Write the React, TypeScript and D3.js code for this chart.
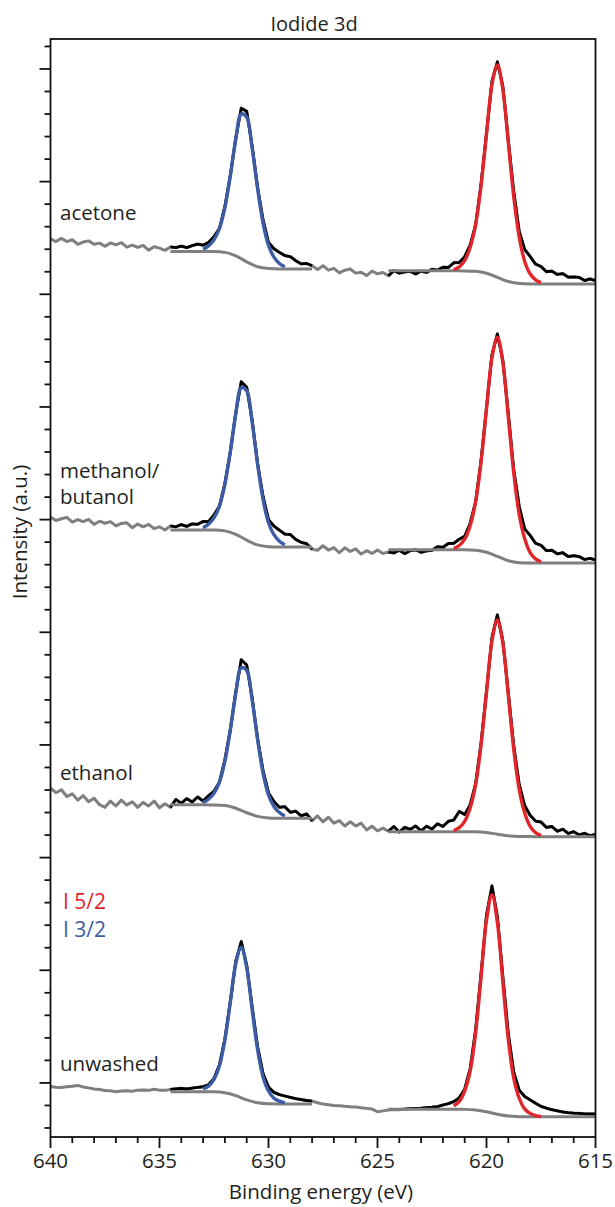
import React from 'react';
import * as d3 from 'd3';

// ---------- data ----------
const chartTitle = 'Iodide 3d';
const xAxisTitle = 'Binding energy (eV)';
const yAxisTitle = 'Intensity (a.u.)';
const xTickValues = [640, 635, 630, 625, 620, 615];

const sampleNames = ['acetone', 'methanol/butanol', 'ethanol', 'unwashed'];
const sampleLabelLines = [['acetone'], ['methanol/', 'butanol'], ['ethanol'], ['unwashed']];
// vertical stacking offset of each spectrum (a.u.)
const sampleOffsets = [35.46, 23.07, 10.93, -1.5];
// energy windows where the measured data are shown black (fit regions)
const fitWindows = [
  [[634.5, 628.0], [624.5, 615.0]],
  [[634.5, 628.0], [624.5, 615.0]],
  [[634.5, 628.0], [624.5, 615.0]],
  [[634.5, 628.0], [623.75, 615.0]],
];
const legendLabels = ['I 5/2', 'I 3/2'];

// measured spectra, 640 -> 615 eV, 0.25 eV steps
const rawEnergy = d3.range(101).map((i) => 640 - i * 0.25);
const acetoneRaw = [
  2.00, 1.88, 2.02, 1.88, 1.96, 1.76, 1.86, 1.91, 1.76, 1.81, 1.67, 1.82, 1.73, 1.83, 1.63, 1.72, 1.62, 1.71, 1.50, 1.65, 1.59, 1.49,
  1.64, 1.61, 1.68, 1.61, 1.70, 1.77, 1.72, 1.84, 2.10, 2.46, 3.44, 4.81, 6.48, 7.80, 7.66, 6.11, 4.28, 2.84, 1.84, 1.56, 1.40, 1.26, 1.21, 1.03, 0.89, 0.91, 0.81,
  0.64, 0.81, 0.61, 0.69, 0.49, 0.61, 0.66, 0.48, 0.52, 0.37, 0.57, 0.45, 0.51, 0.36,
  0.59, 0.48, 0.53, 0.56, 0.44, 0.57, 0.51, 0.65, 0.61, 0.74, 0.73, 0.94, 0.95, 1.21, 1.72, 2.61, 4.43, 6.68, 8.99, 9.86, 8.77, 6.36, 4.10, 2.34, 1.53, 1.22, 0.88, 0.77, 0.54, 0.57, 0.42, 0.46, 0.30, 0.31, 0.29, 0.15, 0.22, 0.15,
];
const methanolRaw = [
  2.04, 1.89, 1.97, 2.03, 1.82, 1.93, 1.84, 1.94, 1.72, 1.86, 1.77, 1.84, 1.65, 1.76, 1.79, 1.57, 1.73, 1.61, 1.72, 1.53, 1.61, 1.47, 1.65,
  1.61, 1.71, 1.63, 1.74, 1.72, 1.85, 1.84, 2.14, 2.53, 3.54, 4.94, 6.69, 8.05, 7.81, 6.34, 4.41, 2.96, 1.93, 1.64, 1.46, 1.29, 1.27, 1.05, 0.92, 0.86, 0.62,
  0.57, 0.77, 0.58, 0.69, 0.46, 0.68, 0.52, 0.63, 0.40, 0.55, 0.43, 0.58, 0.43, 0.49,
  0.45, 0.57, 0.42, 0.55, 0.59, 0.48, 0.54, 0.57, 0.73, 0.70, 0.87, 0.88, 1.06, 1.19, 1.76, 2.72, 4.55, 6.88, 9.25, 10.17, 9.00, 6.63, 4.14, 2.52, 1.52, 1.23, 0.88, 0.79, 0.55, 0.57, 0.41, 0.46, 0.29, 0.33, 0.29, 0.16, 0.21, 0.14,
];
const ethanolRaw = [
  2.15, 1.95, 2.08, 1.78, 1.90, 1.62, 1.82, 1.55, 1.70, 1.42, 1.30, 1.58, 1.36, 1.62, 1.40, 1.55, 1.30, 1.52, 1.36, 1.58, 1.28, 1.46, 1.30,
  1.65, 1.48, 1.69, 1.54, 1.76, 1.58, 1.82, 2.01, 2.42, 3.41, 4.74, 6.44, 7.85, 7.62, 6.15, 4.34, 2.93, 1.94, 1.56, 1.30, 1.33, 1.08, 1.13, 0.92, 1.01, 0.70,
  0.92, 0.66, 0.86, 0.60, 0.71, 0.47, 0.66, 0.47, 0.60, 0.30, 0.46, 0.26, 0.38, 0.24,
  0.45, 0.20, 0.41, 0.32, 0.47, 0.26, 0.46, 0.34, 0.57, 0.45, 0.68, 0.74, 1.12, 0.98, 1.41, 2.34, 4.15, 6.46, 8.83, 9.84, 8.70, 6.38, 4.02, 2.32, 1.38, 0.95, 0.69, 0.65, 0.41, 0.45, 0.24, 0.33, 0.14, 0.22, 0.08, 0.15, 0.04, 0.10,
];
const unwashedRaw = [
  1.34, 1.31, 1.30, 1.33, 1.35, 1.39, 1.32, 1.28, 1.23, 1.21, 1.16, 1.15, 1.11, 1.14, 1.15, 1.13, 1.18, 1.19, 1.17, 1.22, 1.18, 1.17, 1.21,
  1.24, 1.26, 1.23, 1.27, 1.30, 1.33, 1.42, 1.70, 2.30, 3.45, 5.12, 6.90, 7.77, 6.72, 4.88, 3.10, 1.92, 1.32, 1.08, 0.98, 0.92, 0.86, 0.80, 0.76, 0.72, 0.69,
  0.62, 0.56, 0.53, 0.50, 0.49, 0.46, 0.44, 0.43, 0.40, 0.37, 0.34, 0.22, 0.26, 0.30, 0.32, 0.31,
  0.34, 0.36, 0.37, 0.38, 0.40, 0.42, 0.45, 0.52, 0.58, 0.67, 0.84, 1.22, 2.12, 3.85, 6.35, 8.95, 10.24, 8.88, 6.22, 3.68, 1.98, 1.18, 0.90, 0.75, 0.60, 0.46, 0.38, 0.31, 0.26, 0.21, 0.18, 0.16, 0.15, 0.13, 0.12, 0.12,
];

// fitted envelopes: I 3d3/2 (633.0 -> 629.25 eV) and I 3d5/2 (621.5 -> 617.5 eV), 0.25 eV steps
const fit32Energy = d3.range(16).map((i) => 633.0 - i * 0.25);
const fit52Energy = d3.range(17).map((i) => 621.5 - i * 0.25);
const acetoneFit32 = [1.54, 1.69, 1.96, 2.46, 3.39, 4.81, 6.42, 7.54, 7.40, 6.02, 4.23, 2.70, 1.71, 1.19, 0.91, 0.76];
const acetoneFit52 = [0.64, 0.76, 1.03, 1.62, 2.63, 4.35, 6.65, 8.83, 9.72, 8.63, 6.28, 3.87, 2.09, 1.01, 0.45, 0.18, 0.06];
const methanolFit32 = [1.57, 1.73, 2.01, 2.52, 3.49, 4.95, 6.62, 7.79, 7.65, 6.24, 4.39, 2.82, 1.79, 1.26, 0.97, 0.81];
const methanolFit52 = [0.65, 0.78, 1.06, 1.66, 2.71, 4.48, 6.85, 9.10, 10.03, 8.90, 6.48, 4.00, 2.16, 1.09, 0.47, 0.19, 0.06];
const ethanolFit32 = [1.51, 1.66, 1.92, 2.42, 3.34, 4.75, 6.35, 7.49, 7.38, 6.06, 4.31, 2.82, 1.85, 1.34, 1.07, 0.92];
const ethanolFit52 = [0.28, 0.40, 0.68, 1.27, 2.30, 4.06, 6.41, 8.66, 9.62, 8.58, 6.27, 3.87, 2.10, 1.06, 0.46, 0.18, 0.06];
const unwashedFit32 = [1.23, 1.36, 1.66, 2.26, 3.41, 5.09, 6.80, 7.52, 6.61, 4.75, 2.97, 1.76, 1.14, 0.82, 0.69, 0.61];
const unwashedFit52 = [0.48, 0.68, 1.14, 2.02, 3.71, 6.19, 8.72, 9.85, 8.61, 5.98, 3.43, 1.71, 0.82, 0.35, 0.15, 0.05, 0.01];

// Shirley backgrounds: 634.5 -> 628 eV and 624.5 -> 615 eV, 0.5 eV steps
const bg1Energy = d3.range(14).map((i) => 634.5 - i * 0.5);
const bg2Energy = d3.range(20).map((i) => 624.5 - i * 0.5);
const acetoneBg1 = [1.44, 1.44, 1.44, 1.44, 1.435, 1.40, 1.25, 0.98, 0.76, 0.68, 0.66, 0.66, 0.66, 0.66];
const methanolBg1 = [1.47, 1.47, 1.47, 1.47, 1.465, 1.43, 1.28, 1.02, 0.81, 0.73, 0.71, 0.71, 0.71, 0.71];
const ethanolBg1 = [1.41, 1.41, 1.41, 1.41, 1.406, 1.38, 1.26, 1.06, 0.90, 0.83, 0.82, 0.82, 0.82, 0.82];
const unwashedBg1 = [1.11, 1.11, 1.11, 1.11, 1.104, 1.063, 0.935, 0.745, 0.617, 0.576, 0.57, 0.57, 0.57, 0.57];
const acetoneBg2 = [0.58, 0.58, 0.58, 0.58, 0.58, 0.58, 0.58, 0.578, 0.56, 0.475, 0.29, 0.105, 0.02, 0.002, 0, 0, 0, 0, 0, 0];
const methanolBg2 = [0.59, 0.59, 0.59, 0.59, 0.59, 0.59, 0.59, 0.588, 0.57, 0.483, 0.295, 0.107, 0.02, 0.002, 0, 0, 0, 0, 0, 0];
const ethanolBg2 = [0.22, 0.22, 0.22, 0.22, 0.22, 0.22, 0.22, 0.219, 0.212, 0.18, 0.11, 0.04, 0.008, 0.001, 0, 0, 0, 0, 0, 0];
const unwashedBg2 = [0.33, 0.33, 0.33, 0.33, 0.33, 0.33, 0.33, 0.326, 0.302, 0.223, 0.107, 0.028, 0.004, 0, 0, 0, 0, 0, 0, 0];

const rawSeries = [acetoneRaw, methanolRaw, ethanolRaw, unwashedRaw];
const fit32Series = [acetoneFit32, methanolFit32, ethanolFit32, unwashedFit32];
const fit52Series = [acetoneFit52, methanolFit52, ethanolFit52, unwashedFit52];
const bg1Series = [acetoneBg1, methanolBg1, ethanolBg1, unwashedBg1];
const bg2Series = [acetoneBg2, methanolBg2, ethanolBg2, unwashedBg2];

// ---------- styling ----------
const W = 615;
const H = 1207;
const FONT = "'Open Sans', 'Noto Sans', sans-serif";
const TEXT = '#231f20';
const RED = '#e0262b';
const BLUE = '#3d5ca6';
const GRAY = '#7f7f7f';

type Pt = [number, number];

export default function App() {
  const x = d3.scaleLinear().domain([640, 615]).range([50.5, 595.5]);
  const y = d3.scaleLinear().domain([-2.4, 46.33]).range([1137, 39]);
  const [x0, x1] = x.range();
  const [yb, yt] = y.range();

  const lineLin = d3.line<Pt>().x((d) => x(d[0])).y((d) => y(d[1]));
  const lineFit = d3.line<Pt>().x((d) => x(d[0])).y((d) => y(d[1])).curve(d3.curveCatmullRom.alpha(0.5));
  const lineBg = d3.line<Pt>().x((d) => x(d[0])).y((d) => y(d[1])).curve(d3.curveMonotoneX);

  const yTicks = d3.range(-2, 47);
  const xTicks = d3.range(615, 641);

  return (
    <svg width={W} height={H} style={{ position: 'absolute', left: 0, top: 0, display: 'block', background: '#fff' }}
      fontFamily={FONT}>
      {/* title */}
      <text x={314} y={31} textAnchor="middle" fontSize={20} fill={TEXT}>{chartTitle}</text>

      {/* spectra */}
      {sampleNames.map((name, s) => {
        const off = sampleOffsets[s];
        const raw: Pt[] = rawEnergy.map((e, i) => [e, rawSeries[s][i] + off]);
        const bg1: Pt[] = bg1Energy.map((e, i) => [e, bg1Series[s][i] + off]);
        const bg2: Pt[] = bg2Energy.map((e, i) => [e, bg2Series[s][i] + off]);
        const f32: Pt[] = fit32Energy.map((e, i) => [e, fit32Series[s][i] + off]);
        const f52: Pt[] = fit52Energy.map((e, i) => [e, fit52Series[s][i] + off]);
        const blackParts = fitWindows[s].map(([hi, lo]) => raw.filter((p) => p[0] <= hi + 1e-9 && p[0] >= lo - 1e-9));
        return (
          <g key={name}>
            <path d={lineLin(raw) || ''} fill="none" stroke={GRAY} strokeWidth={3} strokeLinejoin="round" />
            {blackParts.map((pts, j) => (
              <path key={j} d={lineLin(pts) || ''} fill="none" stroke="#000" strokeWidth={2.8} strokeLinejoin="round" />
            ))}
            <path d={lineBg(bg1) || ''} fill="none" stroke={GRAY} strokeWidth={3} />
            <path d={lineBg(bg2) || ''} fill="none" stroke={GRAY} strokeWidth={3} />
            <path d={lineFit(f32) || ''} fill="none" stroke={BLUE} strokeWidth={3.4} strokeLinejoin="round" />
            <path d={lineFit(f52) || ''} fill="none" stroke={RED} strokeWidth={3.4} strokeLinejoin="round" />
          </g>
        );
      })}

      {/* frame */}
      <rect x={x0} y={yt} width={x1 - x0} height={yb - yt} fill="none" stroke="#111" strokeWidth={1.8} />

      {/* y ticks */}
      {yTicks.map((v) => (
        <line key={'y' + v} x1={x0 - (v % 5 === 0 ? 11 : 6)} x2={x0} y1={y(v)} y2={y(v)} stroke="#111" strokeWidth={1.8} />
      ))}
      {/* x ticks */}
      {xTicks.map((v) => (
        <line key={'x' + v} x1={x(v)} x2={x(v)} y1={yb} y2={yb + (v % 5 === 0 ? 11 : 6)} stroke="#111" strokeWidth={1.8} />
      ))}
      {xTickValues.map((v) => (
        <text key={'xl' + v} x={x(v)} y={1168} textAnchor="middle" fontSize={20.5} fill={TEXT}>{v}</text>
      ))}

      {/* axis titles */}
      <text x={321} y={1199} textAnchor="middle" fontSize={20.5} fill={TEXT}>{xAxisTitle}</text>
      <text transform={`translate(27,532) rotate(-90)`} textAnchor="middle" fontSize={20.5} fill={TEXT}>{yAxisTitle}</text>

      {/* sample labels */}
      {[[220], [478, 504], [780], [1071]].map((ys, s) =>
        ys.map((yy, j) => (
          <text key={`lab${s}-${j}`} x={60} y={yy} fontSize={20.5} fill={TEXT}>{sampleLabelLines[s][j]}</text>
        ))
      )}

      {/* legend */}
      <text x={63} y={909} fontSize={21} fill={RED}>{legendLabels[0]}</text>
      <text x={63} y={937} fontSize={21} fill={BLUE}>{legendLabels[1]}</text>
    </svg>
  );
}
